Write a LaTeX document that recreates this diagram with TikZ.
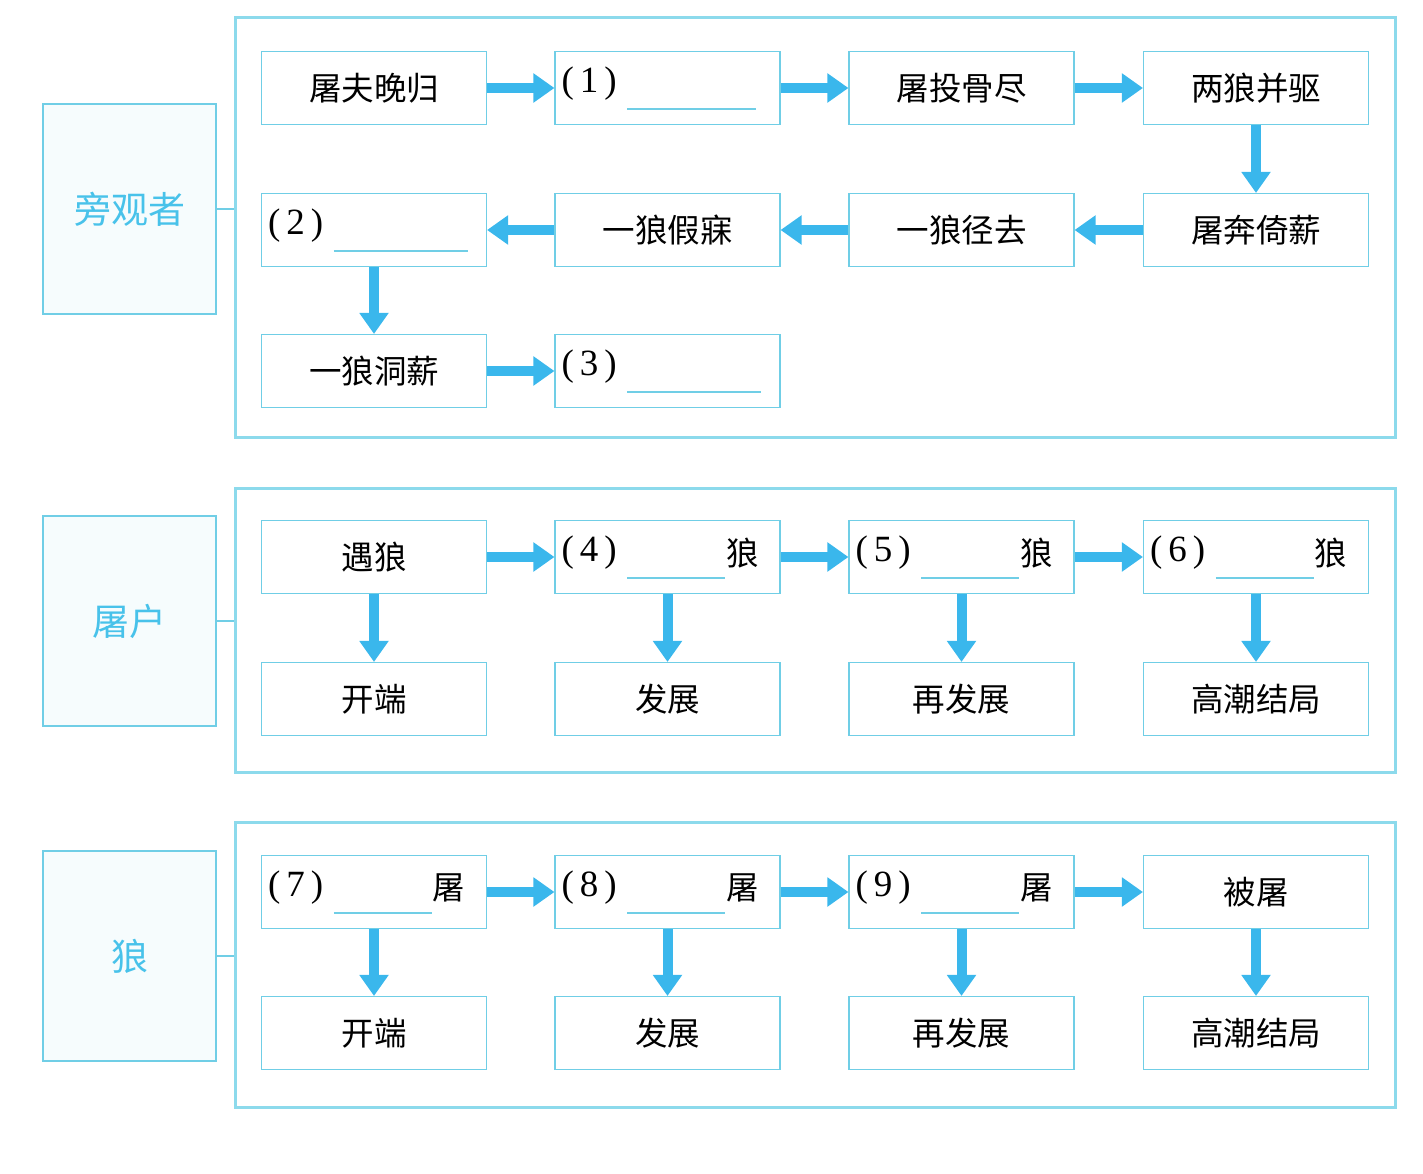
\documentclass[tikz,border=0pt]{standalone}
\usepackage{fontspec}
\setmainfont{Liberation Serif}
\newfontfamily\kai{Noto Sans CJK SC}
\newfontfamily\hei{Noto Sans CJK SC}
\usetikzlibrary{arrows.meta}
\definecolor{boxc}{RGB}{112,206,230}
\definecolor{arrc}{RGB}{58,183,236}
\definecolor{framec}{RGB}{140,218,236}
\definecolor{labc}{RGB}{72,194,234}
\definecolor{labfill}{RGB}{246,252,253}
\newcommand\blankin[4]{%
  \node[numtxt, anchor=west] (#1n) at ([shift={(7,-4)}]#1.west) {(\kern6pt#2\kern6pt)};
  \draw[ul] ([shift={(73,21)}]#1.west) -- ([shift={(#4,21)}]#1.west);
  \node[boxtxt] (#1s) at ([shift={(188,-4)}]#1.west) {#3};
}
\begin{document}
\begin{tikzpicture}[x=1pt,y=-1pt,
  stepbox/.style={draw=boxc, line width=1.1pt, fill=white, minimum width=225pt, minimum height=73pt, inner sep=0pt, font=\kai\fontsize{32.5}{36}\selectfont},
  boxtxt/.style={inner sep=0pt, font=\kai\fontsize{32.5}{36}\selectfont},
  numtxt/.style={inner sep=0pt, font=\fontsize{37}{40}\selectfont},
  ul/.style={draw=boxc, line width=1.1pt},
  labbox/.style={draw=boxc, line width=1.1pt, fill=labfill, minimum width=173pt, minimum height=210pt, inner sep=0pt, text=labc, font=\hei\fontsize{37}{40}\selectfont},
  frame/.style={draw=framec, line width=3pt, minimum width=1160pt, inner sep=0pt},
  arr/.style={draw=arrc, line width=10pt, -{Triangle[width=28pt,length=21pt]}, arrc},
  conn/.style={draw=boxc, line width=1.1pt}
]
\useasboundingbox (0,0) rectangle (1423,1174);
% frames
\node[frame, minimum height=419pt] (F1) at (815,227.5) {};
\node[frame, minimum height=284pt] (F2) at (815,630) {};
\node[frame, minimum height=285pt] (F3) at (815,964.5) {};
% labels
\node[labbox] (L1) at (129.5,209) {旁观者};
\node[labbox] (L2) at (129.5,621) {屠户};
\node[labbox] (L3) at (129.5,956) {狼};
\draw[conn] (L1.east) -- (L1.east -| F1.west);
\draw[conn] (L2.east) -- (L2.east -| F2.west);
\draw[conn] (L3.east) -- (L3.east -| F3.west);
% frame 1
\node[stepbox] (a1) at (374,88) {屠夫晚归};
\node[stepbox] (a2) at (667.5,88) {};
\node[stepbox] (a3) at (961.5,88) {屠投骨尽};
\node[stepbox] (a4) at (1256,88) {两狼并驱};
\node[stepbox] (b1) at (374,230) {};
\node[stepbox] (b2) at (667.5,230) {一狼假寐};
\node[stepbox] (b3) at (961.5,230) {一狼径去};
\node[stepbox] (b4) at (1256,230) {屠奔倚薪};
\node[stepbox] (c1) at (374,371) {一狼洞薪};
\node[stepbox] (c2) at (667.5,371) {};
\blankin{a2}{1}{}{202}
\blankin{b1}{2}{}{207}
\blankin{c2}{3}{}{207}
\draw[arr] (a1) -- (a2);
\draw[arr] (a2) -- (a3);
\draw[arr] (a3) -- (a4);
\draw[arr] (a4) -- (b4);
\draw[arr] (b4) -- (b3);
\draw[arr] (b3) -- (b2);
\draw[arr] (b2) -- (b1);
\draw[arr] (b1) -- (c1);
\draw[arr] (c1) -- (c2);
% frame 2
\node[stepbox] (d1) at (374,557) {遇狼};
\node[stepbox] (d2) at (667.5,557) {};
\node[stepbox] (d3) at (961.5,557) {};
\node[stepbox] (d4) at (1256,557) {};
\blankin{d2}{4}{狼}{171}
\blankin{d3}{5}{狼}{171}
\blankin{d4}{6}{狼}{171}
\node[stepbox] (e1) at (374,699) {开端};
\node[stepbox] (e2) at (667.5,699) {发展};
\node[stepbox] (e3) at (961.5,699) {再发展};
\node[stepbox] (e4) at (1256,699) {高潮结局};
\draw[arr] (d1) -- (d2);
\draw[arr] (d2) -- (d3);
\draw[arr] (d3) -- (d4);
\draw[arr] (d1) -- (e1);
\draw[arr] (d2) -- (e2);
\draw[arr] (d3) -- (e3);
\draw[arr] (d4) -- (e4);
% frame 3
\node[stepbox] (g1) at (374,892) {};
\node[stepbox] (g2) at (667.5,892) {};
\node[stepbox] (g3) at (961.5,892) {};
\node[stepbox] (g4) at (1256,892) {被屠};
\blankin{g1}{7}{屠}{171}
\blankin{g2}{8}{屠}{171}
\blankin{g3}{9}{屠}{171}
\node[stepbox] (h1) at (374,1033) {开端};
\node[stepbox] (h2) at (667.5,1033) {发展};
\node[stepbox] (h3) at (961.5,1033) {再发展};
\node[stepbox] (h4) at (1256,1033) {高潮结局};
\draw[arr] (g1) -- (g2);
\draw[arr] (g2) -- (g3);
\draw[arr] (g3) -- (g4);
\draw[arr] (g1) -- (h1);
\draw[arr] (g2) -- (h2);
\draw[arr] (g3) -- (h3);
\draw[arr] (g4) -- (h4);
\end{tikzpicture}
\end{document}
